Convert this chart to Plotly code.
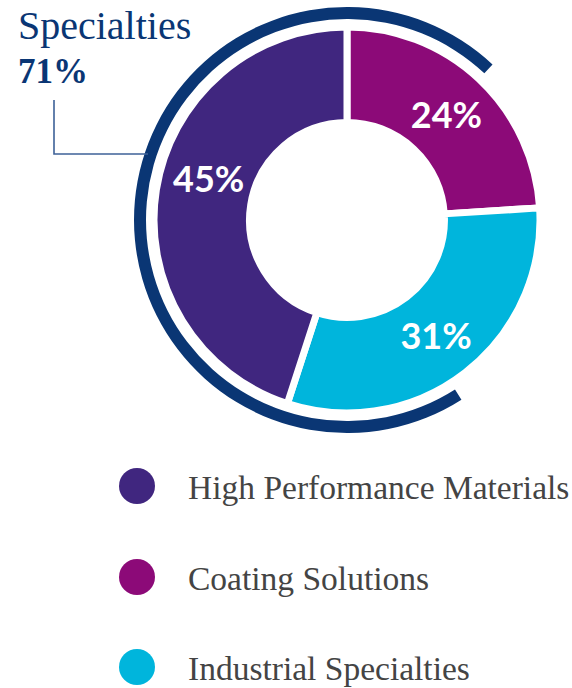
import math
import plotly.graph_objects as go

# ---- data ----
segments = ["Coating Solutions", "Industrial Specialties", "High Performance Materials"]
shares = [24, 31, 45]
segment_colors = ["#8c0a78", "#00b5dc", "#40267f"]

legend_order = ["High Performance Materials", "Coating Solutions", "Industrial Specialties"]

specialties_label = "Specialties"
specialties_share = 71
arc_start_deg = 147.5  # clockwise from 12 o'clock

W, H = 572, 688
NAVY = "#0a3674"

cx, cy = 347, 220
r_main = 193
r_arc = 213


def dom(r):
    return dict(x=[(cx - r) / W, (cx + r) / W], y=[1 - (cy + r) / H, 1 - (cy - r) / H])


fig = go.Figure()

# outer navy arc representing the Specialties share
fig.add_trace(go.Pie(
    values=[specialties_share, 100 - specialties_share],
    labels=[specialties_label, "Other"],
    marker=dict(colors=[NAVY, "rgba(0,0,0,0)"], line=dict(width=0)),
    hole=201 / 213,
    domain=dom(r_arc),
    sort=False,
    direction="clockwise",
    rotation=arc_start_deg,
    textinfo="none",
    hoverinfo="skip",
    showlegend=False,
))

# main donut; the largest slice's label is placed as an annotation (offset like the original)
texts = [f"{v}%" if v != max(shares) else "" for v in shares]
fig.add_trace(go.Pie(
    values=shares,
    labels=segments,
    text=texts,
    marker=dict(colors=segment_colors, line=dict(color="white", width=7)),
    hole=0.505,
    domain=dom(r_main),
    sort=False,
    direction="clockwise",
    rotation=0,
    texttemplate="%{text}",
    textposition="inside",
    insidetextorientation="horizontal",
    insidetextfont=dict(family="Lato", size=36, color="white", weight="bold"),
    showlegend=False,
))

annotations = []

# label for largest slice
imax = shares.index(max(shares))
start = sum(shares[:imax]) / 100 * 360
mid = start + shares[imax] / 100 * 360 / 2 + 8
rad = math.radians(mid)
annotations.append(dict(
    x=cx + 145 * math.sin(rad), y=cy - 145 * math.cos(rad), xref="x", yref="y",
    text=f"{shares[imax]}%", showarrow=False, xanchor="center", yanchor="middle",
    font=dict(family="Lato", size=36, color="white", weight="bold"),
))

# manual legend (circle markers + text)
legend_y = [486, 577, 667]
color_map = dict(zip(segments, segment_colors))
fig.add_trace(go.Scatter(
    x=[137] * len(legend_order),
    y=legend_y,
    mode="markers",
    marker=dict(size=36, color=[color_map[s] for s in legend_order], line=dict(width=0)),
    hoverinfo="skip",
    showlegend=False,
))

for name, y in zip(legend_order, legend_y):
    annotations.append(dict(
        x=186, y=y + 1, xref="x", yref="y", text=name, showarrow=False,
        xanchor="left", yanchor="middle",
        font=dict(family="Liberation Serif", size=33.5, color="#444444"),
    ))

annotations.append(dict(
    x=16, y=37, xref="x", yref="y", text=specialties_label, showarrow=False,
    xanchor="left", yanchor="bottom", yshift=-13,
    font=dict(family="Liberation Serif", size=40, color=NAVY),
))
annotations.append(dict(
    x=16, y=82, xref="x", yref="y", text=f"<b>{specialties_share}%</b>", showarrow=False,
    xanchor="left", yanchor="bottom", yshift=-11,
    font=dict(family="Liberation Serif", size=35, color=NAVY),
))

shapes = [dict(
    type="path", xref="x", yref="y",
    path="M 54 100 L 54 154 L 148 154",
    line=dict(color="#3e6198", width=1.6),
)]

fig.update_layout(
    width=W, height=H,
    margin=dict(l=0, r=0, t=0, b=0),
    paper_bgcolor="white", plot_bgcolor="rgba(0,0,0,0)",
    xaxis=dict(range=[0, W], visible=False, domain=[0, 1], fixedrange=True),
    yaxis=dict(range=[H, 0], visible=False, domain=[0, 1], fixedrange=True),
    annotations=annotations,
    shapes=shapes,
    showlegend=False,
)

fig.write_html("out.html")
